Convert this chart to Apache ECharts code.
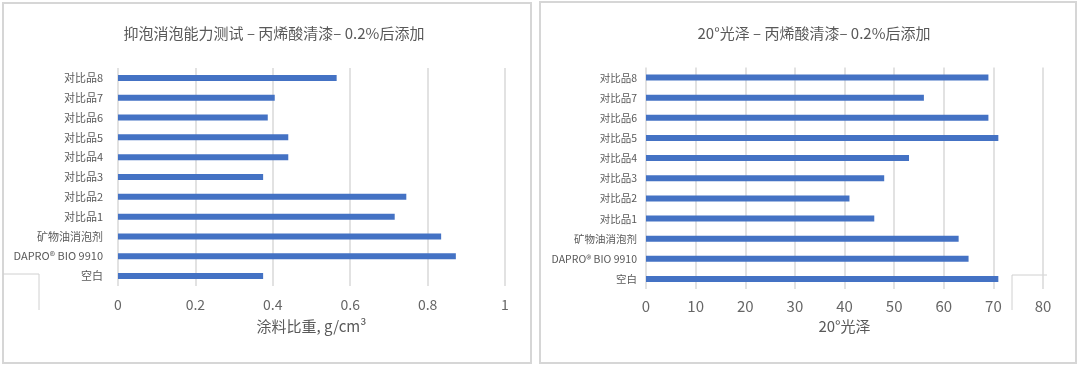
<!DOCTYPE html>
<html>
<head>
<meta charset="utf-8">
<script src="https://cdn.jsdelivr.net/npm/echarts@6/dist/echarts.min.js"></script>
<style>
html,body{margin:0;padding:0;background:#fff;}
#c{width:1080px;height:368px;}
</style>
</head>
<body>
<div id="c"></div>
<script>
// categories listed bottom-to-top
const categories = ['空白', 'DAPRO® BIO 9910', '矿物油消泡剂', '对比品1', '对比品2', '对比品3', '对比品4', '对比品5', '对比品6', '对比品7', '对比品8'];
const densityValues = [0.375, 0.873, 0.835, 0.715, 0.745, 0.375, 0.44, 0.44, 0.387, 0.405, 0.565];
const glossValues = [71, 65, 63, 46, 41, 48, 53, 71, 69, 56, 69];
const leftTitle = '抑泡消泡能力测试 – 丙烯酸清漆– 0.2%后添加';
const rightTitle = '20°光泽 – 丙烯酸清漆– 0.2%后添加';
const leftAxisName = '涂料比重, g/cm³';
const rightAxisName = '20°光泽';

const FONT = '"Noto Sans CJK SC", "Noto Sans", sans-serif';
const BLUE = '#4472C4';
const GRID = '#d9d9d9';
const TXT = '#595959';

const chart = echarts.init(document.getElementById('c'), null, {renderer: 'canvas'});
chart.setOption({
  animation: false,
  backgroundColor: '#fff',
  textStyle: {fontFamily: FONT},
  title: [
    {text: leftTitle, left: 269, top: 21, textAlign: 'center',
     textStyle: {fontSize: 15, fontWeight: 'normal', color: TXT, fontFamily: FONT}},
    {text: rightTitle, left: 809, top: 21, textAlign: 'center',
     textStyle: {fontSize: 15, fontWeight: 'normal', color: TXT, fontFamily: FONT}}
  ],
  grid: [
    {left: 118, top: 68, width: 387, height: 218, containLabel: false},
    {left: 646, top: 67.5, width: 397, height: 221.5, containLabel: false}
  ],
  xAxis: [
    {gridIndex: 0, type: 'value', min: 0, max: 1, interval: 0.2,
     axisLine: {show: false}, axisTick: {show: false},
     splitLine: {show: true, lineStyle: {color: GRID, width: 1.5}},
     axisLabel: {color: '#666', fontSize: 14, margin: 12, fontFamily: FONT},
     name: leftAxisName, nameLocation: 'middle', nameGap: 33,
     nameTextStyle: {color: TXT, fontSize: 15, fontFamily: FONT}},
    {gridIndex: 1, type: 'value', min: 0, max: 80, interval: 10,
     axisLine: {show: false}, axisTick: {show: false},
     splitLine: {show: true, lineStyle: {color: GRID, width: 1.5}},
     axisLabel: {color: '#666', fontSize: 15, margin: 10, fontFamily: FONT},
     name: rightAxisName, nameLocation: 'middle', nameGap: 30,
     nameTextStyle: {color: TXT, fontSize: 15, fontFamily: FONT}}
  ],
  yAxis: [
    {gridIndex: 0, type: 'category', data: categories,
     axisLine: {show: false}, axisTick: {show: false},
     axisLabel: {color: TXT, fontSize: 11, margin: 15, padding: [0, 0, 5, 0], fontFamily: FONT}},
    {gridIndex: 1, type: 'category', data: categories,
     axisLine: {show: false}, axisTick: {show: false},
     axisLabel: {color: TXT, fontSize: 10.5, margin: 9, padding: [0, 0, 4, 0], fontFamily: FONT}}
  ],
  series: [
    {type: 'bar', xAxisIndex: 0, yAxisIndex: 0, data: densityValues, barWidth: 6,
     itemStyle: {color: BLUE}},
    {type: 'bar', xAxisIndex: 1, yAxisIndex: 1, data: glossValues, barWidth: 6,
     itemStyle: {color: BLUE}}
  ],
  graphic: [
    {type: 'rect', shape: {x: 3, y: 3, width: 528, height: 360}, silent: true,
     style: {fill: null, stroke: '#d6d6d6', lineWidth: 2}},
    {type: 'rect', shape: {x: 540, y: 2, width: 536, height: 361}, silent: true,
     style: {fill: null, stroke: '#d6d6d6', lineWidth: 2}},
    {type: 'polyline', shape: {points: [[3, 274], [39, 274], [39, 310]]}, silent: true,
     style: {fill: null, stroke: '#d0d0d0', lineWidth: 1}},
    {type: 'polyline', shape: {points: [[1047, 275], [1012, 275], [1012, 310]]}, silent: true,
     style: {fill: null, stroke: '#d0d0d0', lineWidth: 1}}
  ]
});
</script>
</body>
</html>
